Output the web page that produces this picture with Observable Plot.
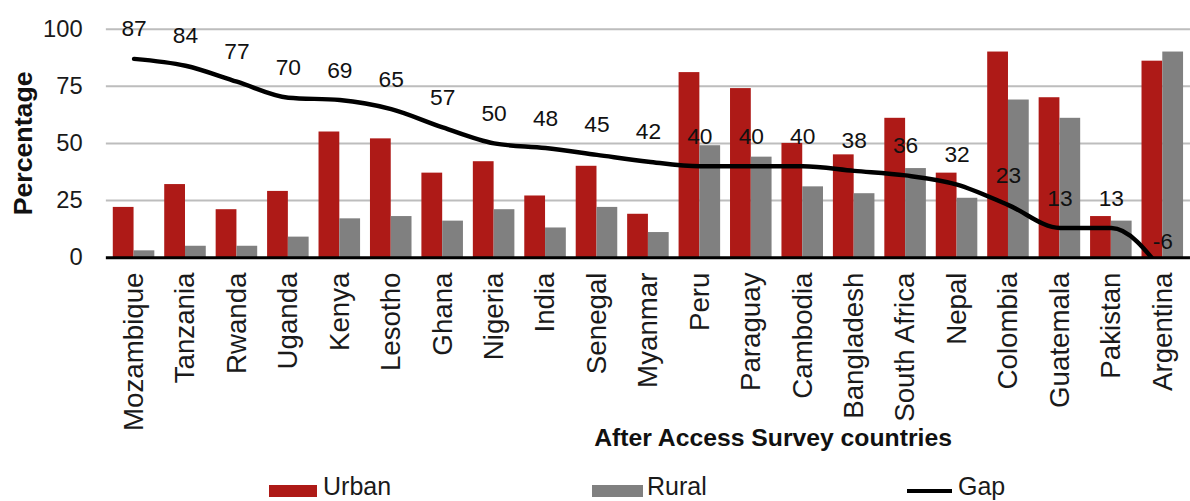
<!DOCTYPE html>
<html>
<head>
<meta charset="utf-8">
<script src="https://cdn.jsdelivr.net/npm/d3@7"></script>
<script src="https://cdn.jsdelivr.net/npm/@observablehq/plot@0.6"></script>
<style>
  html, body { margin: 0; padding: 0; background: #fff; overflow: hidden; }
  #wrap { position: relative; width: 1190px; height: 501px; overflow: hidden; font-family: "Liberation Sans", Arial, sans-serif; }
  #chart { position: absolute; left: 0; top: 0; }
  .lg { position: absolute; font-size: 25px; line-height: 25px; color: #1a1a1a; }
  .sw { position: absolute; }
</style>
</head>
<body>
<div id="wrap">
  <div id="chart"></div>
  <div id="legend"></div>
</div>
<script>
const countries = ["Mozambique","Tanzania","Rwanda","Uganda","Kenya","Lesotho","Ghana","Nigeria","India","Senegal","Myanmar","Peru","Paraguay","Cambodia","Bangladesh","South Africa","Nepal","Colombia","Guatemala","Pakistan","Argentina"];
const urban = [22,32,21,29,55,52,37,42,27,40,19,81,74,50,45,61,37,90,70,18,86];
const rural = [3,5,5,9,17,18,16,21,13,22,11,49,44,31,28,39,26,69,61,16,90];
const gap = [87,84,77,70,69,65,57,50,48,45,42,40,40,40,38,36,32,23,13,13,-6];
const yTicks = [0,25,50,75,100];
const seriesNames = ["Urban","Rural","Gap"];
const seriesColors = ["#ae1a17","#808080","#000000"];

const data = countries.map((c, i) => ({country: c, urban: urban[i], rural: rural[i], gap: gap[i]}));

const chart = Plot.plot({
  width: 1203,
  height: 470,
  marginLeft: 107,
  marginRight: 0,
  marginTop: 29,
  marginBottom: 210,
  style: {fontFamily: "'Liberation Sans', Arial, sans-serif", background: "white", color: "#1a1a1a"},
  x: {domain: countries, paddingInner: 0.2, paddingOuter: 0.1},
  y: {domain: [0, 100]},
  marks: [
    Plot.ruleY(yTicks.filter(t => t > 0), {stroke: "#bdbdbd", strokeWidth: 2}),
    Plot.barY(data, {x: "country", y: "urban", fill: seriesColors[0], insetRight: 21}),
    Plot.barY(data, {x: "country", y: "rural", fill: seriesColors[1], insetLeft: 21}),
    Plot.ruleY([0], {stroke: "black", strokeWidth: 3}),
    Plot.line(data, {x: "country", y: "gap", stroke: seriesColors[2], strokeWidth: 4.5, curve: "monotone-x", clip: true}),
    Plot.text(data, {x: "country", y: "gap", text: d => String(d.gap), dy: -30, fontSize: 23, fill: "#111"}),
    Plot.axisY({ticks: yTicks, tickSize: 0, tickPadding: 24, fontSize: 24, label: null}),
    Plot.axisX({tickRotate: -90, tickSize: 0, tickPadding: 15, fontSize: 28, label: null}),
    Plot.text(["Percentage"], {frameAnchor: "left", text: d => d, dx: -84, rotate: -90, textAnchor: "middle", lineAnchor: "middle", fontSize: 27, fontWeight: "bold", fill: "#111"}),
    Plot.text(["After Access Survey countries"], {frameAnchor: "bottom", text: d => d, dx: 126, dy: 182, textAnchor: "middle", lineAnchor: "middle", fontSize: 25, fontWeight: "bold", fill: "#111"})
  ]
});
document.getElementById("chart").appendChild(chart);

// Legend (HTML, below the SVG)
const legend = document.getElementById("legend");
const items = [
  {name: seriesNames[0], color: seriesColors[0], kind: "box", sx: 269, sw: 48, tx: 323},
  {name: seriesNames[1], color: seriesColors[1], kind: "box", sx: 592, sw: 51, tx: 647},
  {name: seriesNames[2], color: seriesColors[2], kind: "line", sx: 907, sw: 45, tx: 958}
];
for (const it of items) {
  const s = document.createElement("div");
  s.className = "sw";
  s.style.left = it.sx + "px";
  s.style.width = it.sw + "px";
  s.style.background = it.color;
  if (it.kind === "box") { s.style.top = "485px"; s.style.height = "12px"; }
  else { s.style.top = "489px"; s.style.height = "4px"; }
  legend.appendChild(s);
  const t = document.createElement("div");
  t.className = "lg";
  t.style.left = it.tx + "px";
  t.style.top = "474px";
  t.textContent = it.name;
  legend.appendChild(t);
}
</script>
</body>
</html>
